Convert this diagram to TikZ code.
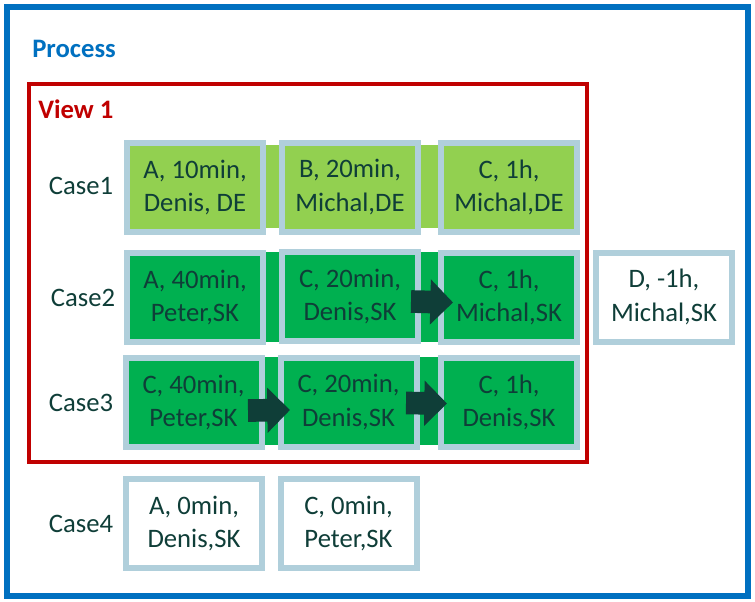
\documentclass[tikz,border=0pt]{standalone}
\usepackage{fontspec}
\setmainfont{Carlito}
\usetikzlibrary{arrows.meta}
\definecolor{procblue}{RGB}{0,112,192}
\definecolor{viewred}{RGB}{192,0,0}
\definecolor{lightgreen}{RGB}{146,208,80}
\definecolor{darkgreen}{RGB}{0,176,80}
\definecolor{edgeblue}{RGB}{176,207,219}
\definecolor{darkteal}{RGB}{15,62,56}

\begin{document}
\begin{tikzpicture}[x=0.75pt,y=-0.75pt,
	event/.style={draw=edgeblue,line width=4.5pt,minimum width=102pt,minimum height=66.75pt,inner sep=0pt,align=center,text=darkteal,font=\fontsize{20}{25}\selectfont},
	caselabel/.style={text=darkteal,font=\fontsize{20}{24}\selectfont},
	flow/.style={line width=17pt,draw=darkteal,-{Triangle[length=17pt,width=33pt]}}]
			\useasboundingbox (0,0) rectangle (755,601);
			
			% frames
			\draw[procblue,line width=4.5pt] (7,7) rectangle (748,595.5);
			\draw[viewred,line width=3pt] (28.5,83.5) rectangle (587,461.5);
			\node[anchor=base west,inner sep=0pt,text=procblue,font=\fontsize{20}{24}\selectfont\bfseries] (process) at (32,57) {Process};
			\node[anchor=base west,inner sep=0pt,text=viewred,font=\fontsize{20}{24}\selectfont\bfseries] (view) at (38,118) {View 1};
			
			% cases
			\node[caselabel] (case1) at (81,186) {Case1};
			\node[caselabel] (case2) at (83,298) {Case2};
			\node[caselabel] (case3) at (81,403) {Case3};
			\node[caselabel] (case4) at (81,524) {Case4};
			
			% events
			\coordinate (r1a) at (195,187.5);
			\coordinate (r1b) at (350,187);
			\coordinate (r1c) at (509,187.5);
			\coordinate (r2a) at (195,297.5);
			\coordinate (r2b) at (350,296.5);
			\coordinate (r2c) at (509,297.5);
			\coordinate (r3a) at (193.5,402.5);
			\coordinate (r3b) at (348.5,402);
			\coordinate (r3c) at (509,402.5);
			
			\fill[lightgreen] ([shift={(0,-42.5)}]r1a) rectangle ([shift={(0,40.5)}]r1c);
			\fill[darkgreen] ([shift={(0,-45.5)}]r2a) rectangle ([shift={(0,44.5)}]r2c);
			\fill[darkgreen] ([shift={(0,-45.5)}]r3a) rectangle ([shift={(0,42.5)}]r3c);
			
			\node[event,fill=lightgreen] (e1a) at (r1a) {A, 10min,\\Denis, DE};
			\node[event,fill=lightgreen] (e1b) at (r1b) {B, 20min,\\Michal,DE};
			\node[event,fill=lightgreen] (e1c) at (r1c) {C, 1h,\\Michal,DE};
			\node[event,fill=darkgreen] (e2a) at (r2a) {A, 40min,\\Peter,SK};
			\node[event,fill=darkgreen] (e2b) at (r2b) {C, 20min,\\Denis,SK};
			\node[event,fill=darkgreen] (e2c) at (r2c) {C, 1h,\\Michal,SK};
			\node[event,fill=white] (e2d) at (664,297) {D, -1h,\\Michal,SK};
			\node[event,fill=darkgreen] (e3a) at (r3a) {C, 40min,\\Peter,SK};
			\node[event,fill=darkgreen] (e3b) at (r3b) {C, 20min,\\Denis,SK};
			\node[event,fill=darkgreen] (e3c) at (r3c) {C, 1h,\\Denis,SK};
			\node[event,fill=white] (e4a) at (194,523.5) {A, 0min,\\Denis,SK};
			\node[event,fill=white] (e4b) at (348.5,523.5) {C, 0min,\\Peter,SK};
			
			% flow arrows
			\draw[flow] ([shift={(-10,5)}]e2b.east) -- ([shift={(15,5)}]e2c.west);
			\draw[flow] ([shift={(-16.5,8)}]e3a.east) -- ([shift={(12.5,8)}]e3b.west);
			\draw[flow] ([shift={(-13.5,1)}]e3b.east) -- ([shift={(9,1)}]e3c.west);
		\end{tikzpicture}
\end{document}
